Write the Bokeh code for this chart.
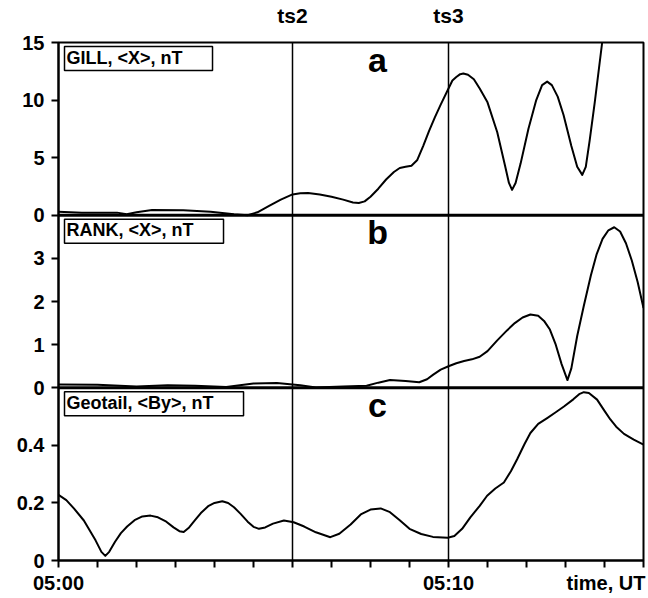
from bokeh.plotting import figure
from bokeh.models import Range1d, LinearAxis, FixedTicker, Span, Label
from bokeh.embed import file_html
from bokeh.resources import INLINE

# ---------------- data (minutes after 05:00 UT) ----------------
minutes = list(range(16))
x_tick_labels = {0: "05:00", 10: "05:10"}
x_axis_title = "time, UT"
x_axis_title_pos = 14.04
event_times = [6, 10]
event_labels = ["ts2", "ts3"]

panel_letters = ["a", "b", "c"]
panel_titles = ["GILL, <X>, nT", "RANK, <X>, nT", "Geotail, <By>, nT"]
panel_max = [15, 4, 0.6]
panel_ticks = [[0, 5, 10, 15], [0, 1, 2, 3], [0, 0.2, 0.4]]

t_gill = [0, 0.6, 1.2, 1.5, 1.75, 2.0, 2.4, 3.2, 3.9, 4.5, 4.85, 5.1, 5.4, 5.7, 6.0,
          6.2, 6.4, 6.7, 7.0, 7.3, 7.55, 7.7, 7.85, 8.0, 8.2, 8.4, 8.6, 8.75, 8.9,
          9.05, 9.2, 9.35, 9.5, 9.65, 9.8, 10.0, 10.1, 10.2, 10.3, 10.38, 10.5, 10.65,
          10.8, 11.0, 11.25, 11.45, 11.55, 11.63, 11.72, 11.85, 12.05, 12.25, 12.4,
          12.53, 12.65, 12.8, 12.95, 13.15, 13.3, 13.43, 13.52, 13.62, 13.75, 13.94,
          14.3, 15.0]
gill_x = [0.3, 0.22, 0.2, 0.22, 0.08, 0.25, 0.45, 0.42, 0.3, 0.08, 0.0, 0.25, 0.8, 1.35, 1.8,
          1.9, 1.93, 1.8, 1.6, 1.35, 1.1, 1.05, 1.2, 1.6, 2.3, 3.1, 3.75, 4.1, 4.2,
          4.3, 4.8, 6.0, 7.3, 8.5, 9.6, 11.0, 11.7, 12.0, 12.25, 12.3, 12.2, 11.8,
          11.0, 9.8, 7.2, 4.3, 2.8, 2.2, 2.8, 4.5, 7.5, 10.0, 11.3,
          11.6, 11.3, 10.3, 8.7, 6.0, 4.2, 3.5, 4.2, 6.5, 9.8, 15.0,
          21.0, 30.0]

t_rank = [0, 1.0, 2.0, 2.8, 3.5, 4.3, 5.0, 5.6, 6.2, 6.6, 7.3, 7.9, 8.2, 8.5, 8.9,
          9.25, 9.45, 9.6, 9.8, 10.0, 10.2, 10.4, 10.6, 10.8, 11.0, 11.25, 11.5, 11.7,
          11.9, 12.1, 12.3, 12.45, 12.6, 12.75, 12.9, 13.05, 13.15, 13.3, 13.47, 13.65,
          13.8, 13.95, 14.1, 14.25, 14.4, 14.55, 14.7, 14.85, 15.0]
rank_x = [0.08, 0.07, 0.03, 0.06, 0.05, 0.02, 0.1, 0.11, 0.06, 0.01, 0.03, 0.05, 0.12, 0.18, 0.16,
          0.13, 0.2, 0.3, 0.42, 0.5, 0.57, 0.62, 0.66, 0.72, 0.85, 1.1, 1.33, 1.5,
          1.63, 1.7, 1.67, 1.55, 1.35, 1.0, 0.55, 0.18, 0.45, 1.2, 1.9, 2.6,
          3.1, 3.45, 3.65, 3.72, 3.62, 3.35, 2.95, 2.45, 1.85]

t_geotail = [0, 0.2, 0.4, 0.65, 0.95, 1.1, 1.2, 1.3, 1.45, 1.6, 1.76, 1.95, 2.15, 2.36,
             2.55, 2.74, 2.95, 3.1, 3.21, 3.35, 3.5, 3.65, 3.85, 4.0, 4.2, 4.35, 4.5,
             4.67, 4.85, 5.0, 5.14, 5.3, 5.5, 5.78, 6.03, 6.3, 6.6, 6.97, 7.2, 7.49,
             7.75, 8.0, 8.26, 8.5, 8.75, 9.0, 9.3, 9.6, 9.98, 10.15, 10.35, 10.56, 10.8,
             10.99, 11.2, 11.42, 11.6, 11.76, 11.95, 12.1, 12.3, 12.53, 12.75, 12.96,
             13.2, 13.35, 13.47, 13.6, 13.81, 14.0, 14.15, 14.3, 14.5, 14.75, 15.0]
geotail_by = [0.228, 0.21, 0.18, 0.139, 0.07, 0.03, 0.016, 0.03, 0.065, 0.095, 0.118, 0.14, 0.153, 0.156,
              0.15, 0.137, 0.115, 0.102, 0.099, 0.115, 0.14, 0.165, 0.19, 0.2, 0.206, 0.2, 0.185,
              0.162, 0.135, 0.117, 0.11, 0.115, 0.128, 0.139, 0.133, 0.118, 0.098, 0.081, 0.093, 0.125,
              0.16, 0.177, 0.181, 0.168, 0.14, 0.11, 0.092, 0.082, 0.079, 0.085, 0.11, 0.15, 0.19,
              0.225, 0.25, 0.271, 0.31, 0.352, 0.405, 0.443, 0.475, 0.495, 0.515, 0.535,
              0.56, 0.578, 0.585, 0.582, 0.559, 0.52, 0.49, 0.465, 0.44, 0.42, 0.403]

series_t = [t_gill, t_rank, t_geotail]
series_v = [gill_x, rank_x, geotail_by]

# ---------------- styling ----------------
FONT = "Liberation Sans"
BAND = 3.0                      # each panel occupies 3 units of the main (0..9) y scale
band_bottom = [6.0, 3.0, 0.0]   # panel a on top, c at the bottom

p = figure(width=648, height=598, output_backend="svg", toolbar_location=None,
           x_range=Range1d(0, 15), y_range=Range1d(0, 9),
           min_border_left=58, min_border_right=5, min_border_top=40, min_border_bottom=38)
p.xgrid.visible = False
p.ygrid.visible = False
p.outline_line_color = "black"
p.outline_line_width = 2
p.background_fill_color = "white"
p.border_fill_color = "white"

# one data range per panel, positioned so each panel fills its band
for i, name in enumerate(panel_letters):
    M = panel_max[i]
    B = band_bottom[i]
    p.extra_y_ranges[name] = Range1d(start=-B / BAND * M, end=(9 - B) / BAND * M)
    p.line(series_t[i], series_v[i], y_range_name=name, line_color="black",
           line_width=2, line_join="round")

# y axis: ticks placed in each panel's band, labelled with panel values
yticks = []
ylabels = {}
for i in range(3):
    for v in panel_ticks[i]:
        pos = round(band_bottom[i] + BAND * v / panel_max[i], 6)
        if float(pos).is_integer():
            pos = int(pos)
        yticks.append(pos)
        ylabels[pos] = f"{v:g}"
ya = p.yaxis[0]
ya.ticker = FixedTicker(ticks=yticks)
ya.major_label_overrides = ylabels
ya.minor_tick_line_color = None
ya.major_tick_out = 7
ya.major_tick_in = 0
ya.major_tick_line_width = 2
ya.axis_line_width = 2
ya.major_label_standoff = 7
ya.major_label_text_font = FONT
ya.major_label_text_font_style = "bold"
ya.major_label_text_font_size = "20px"
ya.major_label_text_color = "black"

# x axis: tick marks every minute (minor), labels at 05:00, 05:10 and the caption
xlabel_pos = [0, 10, x_axis_title_pos]
xlabel_txt = [x_tick_labels[0], x_tick_labels[10], x_axis_title]
xa = p.xaxis[0]
xa.ticker = FixedTicker(ticks=xlabel_pos, minor_ticks=minutes)
xa.major_label_overrides = dict(zip(xlabel_pos, xlabel_txt))
xa.major_tick_line_color = None
xa.major_tick_out = 7
xa.major_tick_in = 0
xa.minor_tick_line_color = "black"
xa.minor_tick_out = 7
xa.minor_tick_in = 0
xa.minor_tick_line_width = 2
xa.axis_line_width = 2
xa.major_label_standoff = 4
xa.major_label_text_font = FONT
xa.major_label_text_font_style = "bold"
xa.major_label_text_font_size = "20px"
xa.major_label_text_color = "black"

# top axis carrying the event names
top = LinearAxis(ticker=FixedTicker(ticks=event_times),
                 major_label_overrides=dict(zip(event_times, event_labels)),
                 axis_line_color=None, major_tick_line_color=None, minor_tick_line_color=None,
                 major_label_standoff=10, major_label_text_font=FONT,
                 major_label_text_font_style="bold", major_label_text_font_size="21px",
                 major_label_text_color="black")
p.add_layout(top, "above")

# event lines and panel separators
for t in event_times:
    p.add_layout(Span(location=t, dimension="height", line_color="black", line_width=1.5))
for b in band_bottom[:2]:
    p.add_layout(Span(location=b, dimension="width", line_color="black", line_width=3))

# panel letters and title boxes
for i in range(3):
    top_y = band_bottom[i] + BAND
    p.add_layout(Label(x=8.18, y=top_y, y_offset=-17, text=panel_letters[i],
                       text_align="center", text_baseline="alphabetic",
                       text_font=FONT, text_font_style="bold", text_font_size="34px",
                       text_color="black"))
    p.add_layout(Label(x=0, y=top_y, x_offset=6, y_offset=-4, text=panel_titles[i],
                       text_align="left", text_baseline="top",
                       text_font=FONT, text_font_style="bold", text_font_size="18px",
                       text_color="black", border_line_color="black", border_line_width=1.5,
                       background_fill_color="white", padding=(2, 30, 1, 3)))

open("out.html", "w").write(file_html(p, INLINE))
